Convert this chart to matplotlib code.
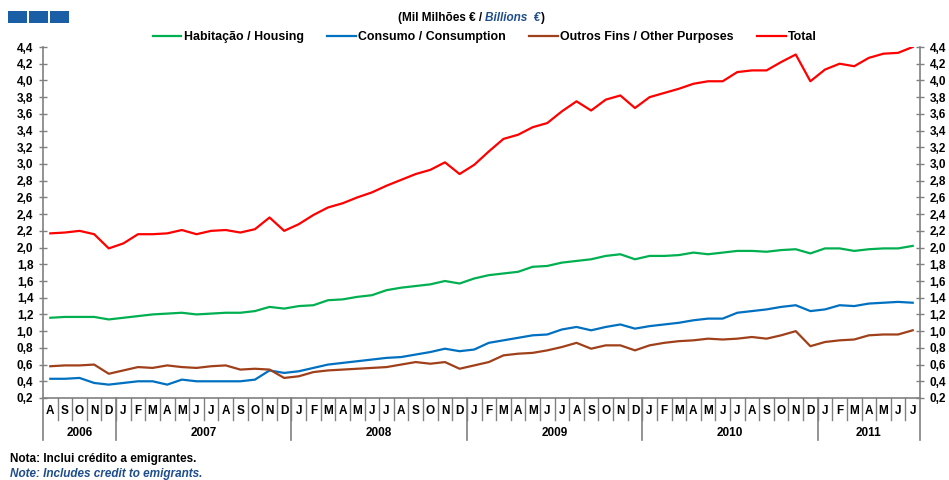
import numpy as np
import matplotlib
matplotlib.use("Agg")
import matplotlib.pyplot as plt
from matplotlib.lines import Line2D
from matplotlib.patches import Rectangle
from matplotlib.ticker import FuncFormatter

plt.rcParams['font.family'] = ['Liberation Sans', 'DejaVu Sans']
plt.rcParams['font.weight'] = 'bold'

# Meses: Ago 2006 - Jul 2011
months = ['A', 'S', 'O', 'N', 'D'] + ['J', 'F', 'M', 'A', 'M', 'J', 'J', 'A', 'S', 'O', 'N', 'D'] * 4 \
    + ['J', 'F', 'M', 'A', 'M', 'J', 'J']
years = ['2006', '2007', '2008', '2009', '2010', '2011']
months_per_year = [5, 12, 12, 12, 12, 7]

habitacao = [1.16, 1.17, 1.17, 1.17, 1.14,
             1.16, 1.18, 1.20, 1.21, 1.22, 1.20, 1.21, 1.22, 1.22, 1.24, 1.29, 1.27,
             1.30, 1.31, 1.37, 1.38, 1.41, 1.43, 1.49, 1.52, 1.54, 1.56, 1.60, 1.57,
             1.63, 1.67, 1.69, 1.71, 1.77, 1.78, 1.82, 1.84, 1.86, 1.90, 1.92, 1.86,
             1.90, 1.90, 1.91, 1.94, 1.92, 1.94, 1.96, 1.96, 1.95, 1.97, 1.98, 1.93,
             1.99, 1.99, 1.96, 1.98, 1.99, 1.99, 2.02]
consumo = [0.43, 0.43, 0.44, 0.38, 0.36,
           0.38, 0.40, 0.40, 0.36, 0.42, 0.40, 0.40, 0.40, 0.40, 0.42, 0.53, 0.50,
           0.52, 0.56, 0.60, 0.62, 0.64, 0.66, 0.68, 0.69, 0.72, 0.75, 0.79, 0.76,
           0.78, 0.86, 0.89, 0.92, 0.95, 0.96, 1.02, 1.05, 1.01, 1.05, 1.08, 1.03,
           1.06, 1.08, 1.10, 1.13, 1.15, 1.15, 1.22, 1.24, 1.26, 1.29, 1.31, 1.24,
           1.26, 1.31, 1.30, 1.33, 1.34, 1.35, 1.34]
outros = [0.58, 0.59, 0.59, 0.60, 0.49,
          0.53, 0.57, 0.56, 0.59, 0.57, 0.56, 0.58, 0.59, 0.54, 0.55, 0.54, 0.44,
          0.46, 0.51, 0.53, 0.54, 0.55, 0.56, 0.57, 0.60, 0.63, 0.61, 0.63, 0.55,
          0.59, 0.63, 0.71, 0.73, 0.74, 0.77, 0.81, 0.86, 0.79, 0.83, 0.83, 0.77,
          0.83, 0.86, 0.88, 0.89, 0.91, 0.90, 0.91, 0.93, 0.91, 0.95, 1.00, 0.82,
          0.87, 0.89, 0.90, 0.95, 0.96, 0.96, 1.01]
total = [2.17, 2.18, 2.20, 2.16, 1.99,
         2.05, 2.16, 2.16, 2.17, 2.21, 2.16, 2.20, 2.21, 2.18, 2.22, 2.36, 2.20,
         2.28, 2.39, 2.48, 2.53, 2.60, 2.66, 2.74, 2.81, 2.88, 2.93, 3.02, 2.88,
         2.99, 3.15, 3.30, 3.35, 3.44, 3.49, 3.63, 3.75, 3.64, 3.77, 3.82, 3.67,
         3.80, 3.85, 3.90, 3.96, 3.99, 3.99, 4.10, 4.12, 4.12, 4.22, 4.31, 3.99,
         4.13, 4.20, 4.17, 4.27, 4.32, 4.33, 4.40]

series = [
    (habitacao, 'Habitação / Housing', '#00b050'),
    (consumo, 'Consumo / Consumption', '#0070c0'),
    (outros, 'Outros Fins / Other Purposes', '#a0401a'),
    (total, 'Total', '#ff0000'),
]

fig = plt.figure(figsize=(9.49, 4.8), dpi=100)
ax = fig.add_axes([43 / 949, 1 - 398 / 480, 877 / 949, 351 / 480])

x = np.arange(len(months))
for vals, lab, col in series:
    ax.plot(x, vals, color=col, lw=1.6, label=lab)

ax.set_xlim(-0.5, len(months) - 0.5)
ax.set_ylim(0.2, 4.4)
yt = np.round(np.arange(0.2, 4.41, 0.2), 1)
fmt = FuncFormatter(lambda v, p: f"{v:.1f}".replace('.', ','))

axis_col = '#808080'
ax.spines['top'].set_visible(False)
for s in ['left', 'right', 'bottom']:
    ax.spines[s].set_color(axis_col)
    ax.spines[s].set_linewidth(1.2)

ax.set_yticks(yt)
ax.yaxis.set_major_formatter(fmt)
ax.tick_params(axis='y', direction='inout', length=6, width=1, color=axis_col,
               labelsize=8.5, pad=4, left=True, right=True, labelleft=True, labelright=True)
for t in ax.get_yticklabels():
    t.set_fontweight('bold')
ax.set_xticks([])

# caixa de meses / anos por baixo do eixo
tr = ax.get_xaxis_transform()
for i, m in enumerate(months):
    ax.text(i, -0.037, m, transform=tr, ha='center', va='center', fontsize=8.5, fontweight='bold')
    if i > 0:
        ax.plot([i - 0.5, i - 0.5], [0, -0.063], transform=tr, color=axis_col, lw=1, clip_on=False)
start = 0
for yr, n in zip(years, months_per_year):
    ax.text(start + n / 2 - 0.5, -0.10, yr, transform=tr, ha='center', va='center',
            fontsize=8.5, fontweight='bold')
    ax.plot([start - 0.5, start - 0.5], [0, -0.12], transform=tr, color=axis_col, lw=1.2, clip_on=False)
    start += n
ax.plot([start - 0.5, start - 0.5], [0, -0.12], transform=tr, color=axis_col, lw=1.2, clip_on=False)

# legenda
handles = [Line2D([], [], color=c, lw=1.6) for _, _, c in series]
labels = [l for _, l, _ in series]
fig.legend(handles, labels, ncol=4, loc='center', bbox_to_anchor=(485 / 949, 1 - 37 / 480),
           frameon=False, handlelength=2.3, handletextpad=0.2, columnspacing=1.9,
           prop={'weight': 'bold', 'size': 8.9})

# subtítulo
t1 = fig.text(398 / 949, 1 - 18 / 480, '(Mil Milhões € / ', fontsize=8.5, fontweight='bold',
              va='center', ha='left')
a2 = ax.annotate('Billions  €', xy=(1, 0.5), xycoords=t1, va='center', ha='left',
                 fontsize=8.5, fontweight='bold', style='italic', color='#1f4e8c')
ax.annotate(')', xy=(1, 0.5), xycoords=a2, va='center', ha='left', fontsize=8.5, fontweight='bold')

# quadrados azuis
for x0 in [8, 29, 50]:
    fig.patches.append(Rectangle((x0 / 949, 1 - 23 / 480), 19 / 949, 12 / 480,
                                 transform=fig.transFigure, facecolor='#1a5ea6',
                                 edgecolor='none', figure=fig))

# notas
fig.text(10 / 949, 1 - 459 / 480, 'Nota: Inclui crédito a emigrantes.', fontsize=8.5,
         fontweight='bold', va='center')
fig.text(10 / 949, 1 - 474 / 480, 'Note: Includes credit to emigrants.', fontsize=8.5,
         fontweight='bold', style='italic', color='#1f4e8c', va='center')

fig.savefig('out.png', dpi=100)
